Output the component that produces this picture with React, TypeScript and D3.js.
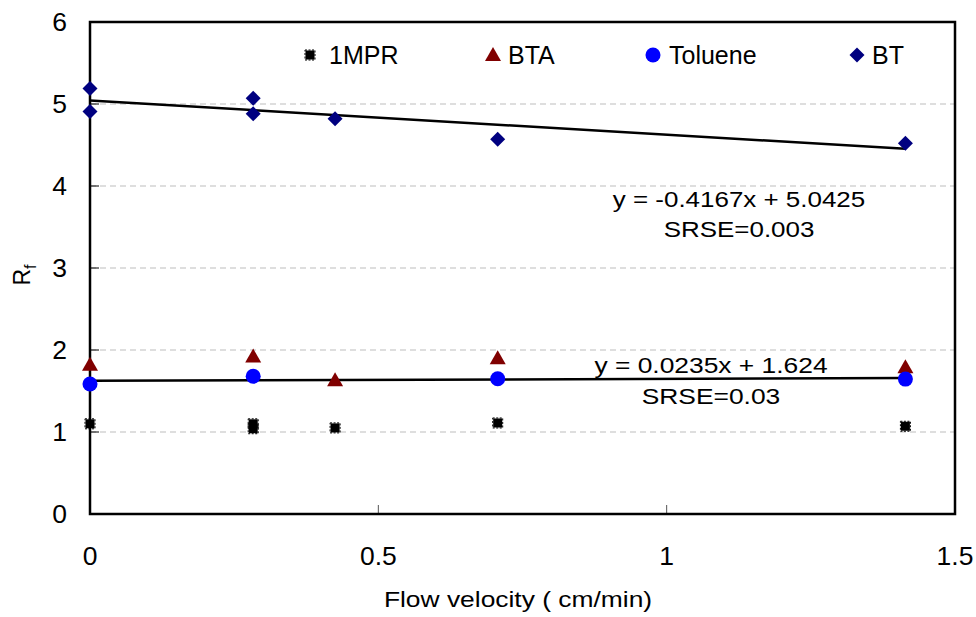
import React from "react";
import * as d3 from "d3";

const xTicks = [0, 0.5, 1, 1.5];
const yTicks = [0, 1, 2, 3, 4, 5, 6];

const mprX = [0, 0.283, 0.283, 0.425, 0.707, 1.414];
const mprY = [1.1, 1.1, 1.04, 1.05, 1.11, 1.07];
const btaX = [0, 0.283, 0.425, 0.707, 1.414];
const btaY = [1.82, 1.92, 1.63, 1.9, 1.79];
const tolX = [0, 0.283, 0.707, 1.414];
const tolY = [1.585, 1.68, 1.65, 1.645];
const btX = [0, 0, 0.283, 0.283, 0.425, 0.707, 1.414];
const btY = [5.19, 4.91, 5.07, 4.88, 4.82, 4.57, 4.52];

const trend1 = { slope: -0.4167, intercept: 5.0425, x0: 0, x1: 1.414 };
const trend2 = { slope: 0.0235, intercept: 1.624, x0: 0, x1: 1.414 };

const legendNames = ["1MPR", "BTA", "Toluene", "BT"];

const font = "'Liberation Sans', Arial, sans-serif";

function T(props: { x: number; y: number; size: number; s?: number; anchor?: string; children: any }) {
  const { x, y, size, s = 1, anchor = "start", children } = props;
  return (
    <text
      transform={`translate(${x},${y}) scale(${s},1)`}
      textAnchor={anchor}
      fontFamily={font}
      fontSize={size}
      fill="#000"
    >
      {children}
    </text>
  );
}

export default function App() {
  const W = 976, H = 617;
  const L = 90, R = 955, Tp = 22, B = 514;
  const x = d3.scaleLinear().domain([0, 1.5]).range([L, R]);
  const y = d3.scaleLinear().domain([0, 6]).range([B, Tp]);
  const navy = "#000080";
  const maroon = "#800000";
  const blue = "#0000ff";

  const tri = (cx: number, cy: number) =>
    `M${cx},${cy - 8}L${cx + 8},${cy + 6}L${cx - 8},${cy + 6}Z`;
  const dia = (cx: number, cy: number, r = 7.5) =>
    `M${cx},${cy - r}L${cx + r},${cy}L${cx},${cy + r}L${cx - r},${cy}Z`;
  const mpr = (cx: number, cy: number, key: any) => (
    <g key={key}>
      <rect x={cx - 4.5} y={cy - 4.5} width={9} height={9} fill="#000" />
      <rect x={cx - 5} y={cy - 5} width={10} height={10} fill="none" stroke="#000" strokeWidth={1} strokeDasharray="2,1.5" />
    </g>
  );

  const legendM = [310, 493, 653, 857];
  const legendT = [329, 508, 669, 872];
  const legendY = 55;

  return (
    <svg width={W} height={H} style={{ position: "absolute", left: 0, top: 0, background: "#fff" }}>
      {/* grid */}
      {yTicks.filter((t) => t > 0 && t < 6).map((t) => (
        <line key={"g" + t} x1={L} x2={R} y1={y(t)} y2={y(t)} stroke="#bdbdbd" strokeWidth={1} strokeDasharray="6,4" />
      ))}
      {/* y ticks inward */}
      {yTicks.map((t) => (
        <line key={"yt" + t} x1={L} x2={L + 9} y1={y(t)} y2={y(t)} stroke="#000" strokeWidth={1} />
      ))}
      {/* x ticks inward */}
      {xTicks.map((t) => (
        <line key={"xt" + t} x1={x(t)} x2={x(t)} y1={B} y2={B - 9} stroke="#555" strokeWidth={1} />
      ))}
      <rect x={L} y={Tp} width={R - L} height={B - Tp} fill="none" stroke="#000" strokeWidth={2.5} />
      {/* tick labels */}
      {yTicks.map((t) => (
        <T key={"yl" + t} x={67} y={y(t) + 9} size={25} s={1.06} anchor="end">
          {t}
        </T>
      ))}
      {xTicks.map((t) => (
        <T key={"xl" + t} x={x(t)} y={565} size={25} s={1.06} anchor="middle">
          {t}
        </T>
      ))}
      <T x={518} y={607} size={22} s={1.2} anchor="middle">
        Flow velocity ( cm/min)
      </T>
      <text transform="translate(30,275) rotate(-90)" textAnchor="middle" fontFamily={font} fontSize={23} fill="#000">
        R<tspan fontSize={16} dy={6}>f</tspan>
      </text>
      {/* trend lines */}
      {[trend1, trend2].map((tr, i) => (
        <line
          key={"tr" + i}
          x1={x(tr.x0)}
          y1={y(tr.slope * tr.x0 + tr.intercept)}
          x2={x(tr.x1)}
          y2={y(tr.slope * tr.x1 + tr.intercept)}
          stroke="#000"
          strokeWidth={2.5}
        />
      ))}
      {/* series */}
      {mprX.map((v, i) => mpr(x(v), y(mprY[i]), "m" + i))}
      {btaX.map((v, i) => (
        <path key={"a" + i} d={tri(x(v), y(btaY[i]))} fill={maroon} />
      ))}
      {tolX.map((v, i) => (
        <circle key={"t" + i} cx={x(v)} cy={y(tolY[i])} r={7.5} fill={blue} />
      ))}
      {btX.map((v, i) => (
        <path key={"b" + i} d={dia(x(v), y(btY[i]))} fill={navy} />
      ))}
      {/* equations */}
      <T x={739} y={207} size={22} s={1.18} anchor="middle">
        y = -0.4167x + 5.0425
      </T>
      <T x={739} y={237} size={22} s={1.18} anchor="middle">
        SRSE=0.003
      </T>
      <T x={711} y={373} size={22} s={1.2} anchor="middle">
        y = 0.0235x + 1.624
      </T>
      <T x={711} y={404} size={22} s={1.2} anchor="middle">
        SRSE=0.03
      </T>
      {/* legend */}
      {mpr(legendM[0], legendY, "lm")}
      <path d={tri(legendM[1], legendY)} fill={maroon} />
      <circle cx={legendM[2]} cy={legendY} r={7.5} fill={blue} />
      <path d={dia(legendM[3], legendY)} fill={navy} />
      {legendNames.map((n, i) => (
        <T key={"ln" + i} x={legendT[i]} y={legendY + 9} size={25}>
          {n}
        </T>
      ))}
    </svg>
  );
}
